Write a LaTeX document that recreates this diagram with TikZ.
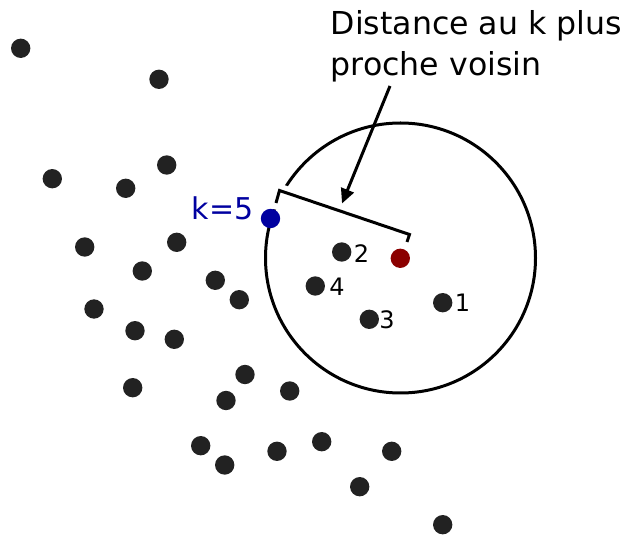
\documentclass[tikz,border=0pt]{standalone}
\usepackage{fontspec}
\setmainfont{DejaVu Sans}
\usetikzlibrary{arrows.meta,calc}
\definecolor{dotgray}{HTML}{222222}
\definecolor{kblue}{HTML}{0000A0}
\definecolor{qred}{HTML}{8B0000}
\begin{document}
\begin{tikzpicture}[x=0.75pt,y=-0.75pt,
  dot/.style={circle,fill=dotgray,inner sep=0pt,minimum size=14.5pt},
  qdot/.style={dot,fill=qred},
  kdot/.style={dot,fill=kblue},
  lbl/.style={anchor=base west,inner sep=0pt,font=\fontsize{18pt}{21pt}\selectfont},
  big/.style={anchor=base west,inner sep=0pt,font=\fontsize{22.5pt}{27pt}\selectfont},
  caption/.style={anchor=base west,inner sep=0pt,font=\fontsize{23.7pt}{28pt}\selectfont},
  thick line/.style={line width=2.25pt,black},
  halo/.style={line width=10pt,white,line cap=round,line join=round}]
\useasboundingbox (0,0) rectangle (622,538);
% neighbourhood circle
\draw[thick line] (400.5,258) circle[radius=135];
% bracket
\coordinate (b1) at (276,203);
\coordinate (b2) at (279.5,190.5);
\coordinate (b3) at (409.5,234.5);
\coordinate (b4) at (407,242);
\draw[halo] (b1) -- (b2) -- ($(b2)!0.15!(b3)$);
\draw[thick line,line join=miter] (b1) -- (b2) -- (b3) -- (b4);
% outside points
\foreach \n/\x/\y in {o1/20.7/48.3, o2/159/79.3, o3/52.3/178.7, o4/125.7/188.3, o5/166.7/165,
  o6/84.7/247, o7/176.7/242.3, o8/142.3/271, o9/215.3/280.3, o10/239.3/299.7,
  o11/94/309, o12/135/330.7, o13/174.3/339.3, o14/132.7/387.7, o15/245/374.5,
  o16/226/400.5, o17/289.7/391, o18/200.7/445.7, o19/224.7/465, o20/277/451.3,
  o21/321.7/441.7, o22/391.7/451.3, o23/359.7/486.7, o24/442.7/524.7}
  \node[dot] (\n) at (\x,\y) {};
% neighbours
\node[dot] (n1) at (442.7,302.7) {};
\node[dot] (n2) at (341.7,252) {};
\node[dot] (n3) at (369.3,319.3) {};
\node[dot] (n4) at (315.3,286) {};
\node[lbl] (l1) at (454.5,311.7) {1};
\node[lbl] (l2) at (353.5,262.7) {2};
\node[lbl] (l3) at (379,328.7) {3};
\node[lbl] (l4) at (329,296) {4};
% query point and k-th neighbour
\node[qdot] (q) at (400.3,258.3) {};
\node[kdot] (k5) at (270.5,218.5) {};
\node[big,text=kblue] (klabel) at (191.5,219.3) {k=5};
% caption and arrow
\node[caption] (cap1) at (330.5,34.5) {Distance au k plus};
\node[caption] (cap2) at (330.5,76) {proche voisin};
\coordinate (astart) at (390,86);
\coordinate (atip) at (342,203.5);
\draw[thick line,-{Triangle[length=11pt,width=10pt]}] (astart) -- (atip);
\end{tikzpicture}
\end{document}
